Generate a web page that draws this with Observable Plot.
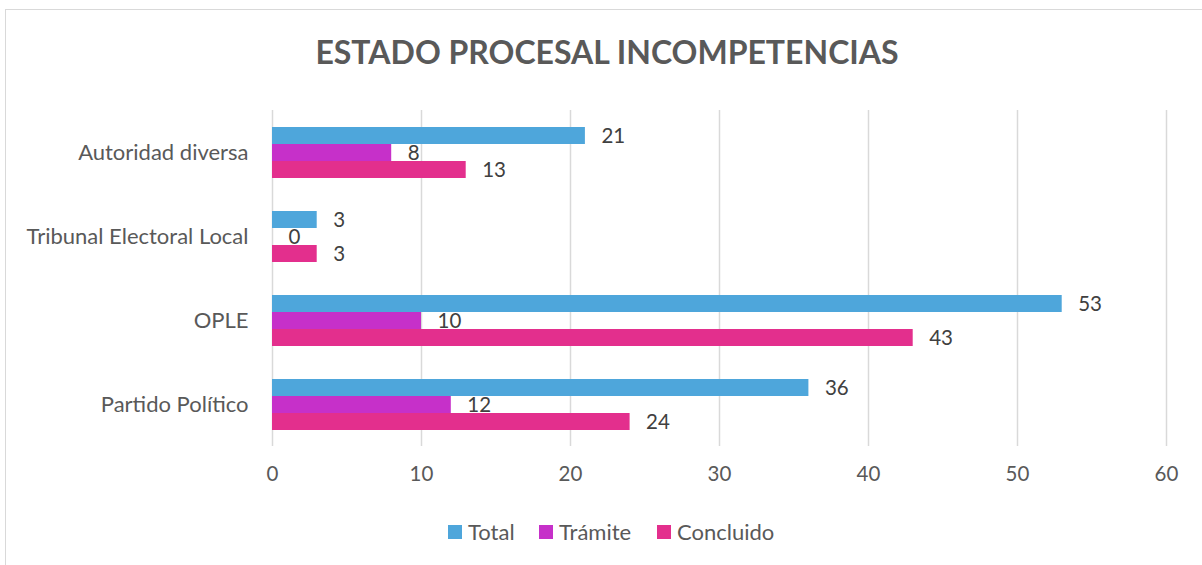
<!DOCTYPE html>
<html>
<head>
<meta charset="utf-8">
<script src="https://cdn.jsdelivr.net/npm/d3@7"></script>
<script src="https://cdn.jsdelivr.net/npm/@observablehq/plot@0.6"></script>
<style>
  html, body { margin: 0; padding: 0; background: #fff; }
  #wrap { position: relative; width: 1202px; height: 565px; overflow: hidden; font-family: Lato, "Noto Sans", sans-serif; }
  #frame { position: absolute; left: 5px; top: 9px; width: 1250px; height: 650px; border: 1.5px solid #d9d9d9; box-sizing: border-box; }
  #title { position: absolute; left: 0; width: 1214px; top: 36px; text-align: center; font-weight: 700; font-size: 32px; line-height: 32px; color: #595959; }
  #chart { position: absolute; left: 0; top: 0; }
  #legend { position: absolute; left: 0; top: 519px; width: 1202px; height: 26px; font-size: 22px; line-height: 26px; color: #595959; }
  #legend .item { position: absolute; top: 0; display: flex; align-items: center; height: 26px; }
  #legend .sw { width: 14px; height: 14px; margin-right: 6px; }
</style>
</head>
<body>
<div id="wrap">
  <div id="frame"></div>
  <div id="chart"></div>
  <div id="title"></div>
  <div id="legend"></div>
</div>
<script>
const titleText = "ESTADO PROCESAL INCOMPETENCIAS";
const categories = ["Autoridad diversa", "Tribunal Electoral Local", "OPLE", "Partido Político"];
const seriesNames = ["Total", "Trámite", "Concluido"];
const totalValues = [21, 3, 53, 36];
const tramiteValues = [8, 0, 10, 12];
const concluidoValues = [13, 3, 43, 24];
const xTicks = [0, 10, 20, 30, 40, 50, 60];
const colors = ["#4ea6db", "#c630c9", "#e32f8d"];

const seriesValues = [totalValues, tramiteValues, concluidoValues];
const data = [];
categories.forEach((c, i) => {
  seriesNames.forEach((s, j) => {
    data.push({category: c, series: s, value: seriesValues[j][i]});
  });
});

document.getElementById("title").textContent = titleText;

const chart = Plot.plot({
  width: 1202,
  height: 565,
  marginTop: 108,
  marginBottom: 118,
  marginLeft: 272,
  marginRight: 36,
  style: {fontFamily: "Lato, 'Noto Sans', sans-serif", background: "transparent"},
  x: {domain: [0, 60], ticks: xTicks, axis: null},
  y: {domain: seriesNames, paddingInner: 0, paddingOuter: 0.921, axis: null},
  fy: {domain: categories, padding: 0, axis: null},
  color: {domain: seriesNames, range: colors},
  marks: [
    Plot.ruleX(xTicks, {x: d => d, stroke: "#d9d9d9", strokeWidth: 1.5}),
    Plot.barX(data, {fy: "category", y: "series", x: "value", fill: "series", inset: 0}),
    Plot.text(data, {fy: "category", y: "series", x: "value", text: d => String(d.value), dx: 16, textAnchor: "start", fontSize: 20.5, fill: "#404040"}),
    Plot.axisFy({anchor: "left", tickSize: 0, tickPadding: 24, fontSize: 22, color: "#595959", label: null}),
    Plot.axisX({anchor: "bottom", ticks: xTicks, tickSize: 0, tickPadding: 20, fontSize: 20.5, color: "#595959", label: null, facetAnchor: "bottom"})
  ]
});
document.getElementById("chart").appendChild(chart);

const legendX = [448, 539, 657];
const legend = document.getElementById("legend");
seriesNames.forEach((s, j) => {
  const item = document.createElement("div");
  item.className = "item";
  item.style.left = legendX[j] + "px";
  const sw = document.createElement("div");
  sw.className = "sw";
  sw.style.background = colors[j];
  const t = document.createElement("span");
  t.textContent = s;
  item.appendChild(sw);
  item.appendChild(t);
  legend.appendChild(item);
});
</script>
</body>
</html>
